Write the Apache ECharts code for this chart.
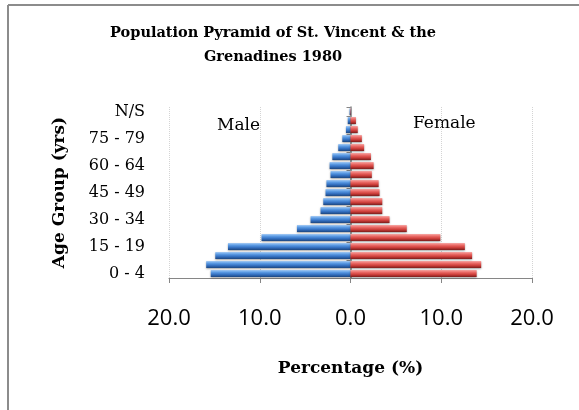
<!DOCTYPE html>
<html>
<head>
<meta charset="utf-8">
<script src="https://cdn.jsdelivr.net/npm/echarts@6/dist/echarts.min.js"></script>
<style>
html,body{margin:0;padding:0;background:#fff;}
#chart{width:579px;height:410px;}
</style>
</head>
<body>
<div id="chart"></div>
<script>
var categories = ['0 - 4','5 - 9','10 - 14','15 - 19','20 - 24','25 - 29','30 - 34','35 - 39','40 - 44','45 - 49','50 - 54','55 - 59','60 - 64','65 - 69','70 - 74','75 - 79','80 - 84','85+','N/S'];
var maleValues = [15.4,15.9,14.9,13.5,9.8,5.9,4.4,3.3,3.0,2.75,2.65,2.2,2.3,2.0,1.35,0.9,0.5,0.3,0.1];
var femaleValues = [13.9,14.4,13.4,12.6,9.9,6.2,4.3,3.5,3.5,3.2,3.1,2.35,2.55,2.25,1.5,1.25,0.8,0.6,0.05];
var xTicks = [-20,-10,0,10,20];

var chart = echarts.init(document.getElementById('chart'), null, {renderer:'canvas'});

function grad(c0,c1,c2,c3){
  return new echarts.graphic.LinearGradient(0,0,0,1,[
    {offset:0,color:c0},{offset:0.3,color:c1},{offset:0.65,color:c2},{offset:1,color:c3}]);
}

var option = {
  backgroundColor:'#ffffff',
  animation:false,
  title:{
    text:'Population Pyramid of St. Vincent & the\nGrenadines 1980',
    left:268, top:16, textAlign:'center',
    textStyle:{fontFamily:'DejaVu Serif',fontWeight:'bold',fontSize:14.5,lineHeight:24,color:'#000'}
  },
  grid:{left:169,right:47,top:107,bottom:132,containLabel:false},
  xAxis:{
    type:'value', min:xTicks[0], max:xTicks[xTicks.length-1], interval:10,
    name:'Percentage (%)', nameLocation:'middle', nameGap:82,
    nameTextStyle:{fontFamily:'DejaVu Serif',fontWeight:'bold',fontSize:17,color:'#000'},
    axisLine:{show:true,onZero:false,lineStyle:{color:'#868686',width:1}},
    axisTick:{show:true,length:5,lineStyle:{color:'#868686'}},
    axisLabel:{margin:30,fontFamily:'Open Sans',fontSize:22,color:'#000',
      formatter:function(v){return Math.abs(v).toFixed(1);}},
    splitLine:{show:true,lineStyle:{color:'#d4d4d4',type:'dotted',width:1}}
  },
  yAxis:[{
    type:'category', data:categories, position:'left',
    name:'Age Group (yrs)', nameLocation:'middle', nameGap:101, nameRotate:90,
    nameTextStyle:{fontFamily:'DejaVu Serif',fontWeight:'bold',fontSize:17,color:'#000'},
    axisLine:{show:false,onZero:false},
    axisTick:{show:false},
    axisLabel:{interval:2,margin:24,fontFamily:'DejaVu Serif',fontSize:16,color:'#000'},
    splitLine:{show:false}
  },{
    type:'category', data:categories, position:'left',
    axisLine:{show:true,onZero:true,lineStyle:{color:'#868686',width:1.5}},
    axisTick:{show:true,length:4,inside:false,lineStyle:{color:'#868686'}},
    axisLabel:{show:false},
    splitLine:{show:false}
  }],
  series:[{
    name:'Male', type:'bar', stack:'total', yAxisIndex:0,
    barWidth:7,
    data:maleValues.map(function(v){return -v;}),
    itemStyle:{color:grad('#a9cdf5','#5d9de6','#3470c0','#1c4680'),
      shadowColor:'rgba(0,0,0,0.35)',shadowBlur:2,shadowOffsetY:1}
  },{
    name:'Female', type:'bar', stack:'total', yAxisIndex:0,
    barWidth:7,
    data:femaleValues,
    itemStyle:{color:grad('#f7aaa7','#ec6c68','#cc3e3a','#7c1d1b'),
      shadowColor:'rgba(0,0,0,0.35)',shadowBlur:2,shadowOffsetY:1}
  }],
  graphic:[
    {type:'line',shape:{x1:8,y1:5,x2:579,y2:5},style:{stroke:'#8c8c8c',lineWidth:2},z:10},
    {type:'line',shape:{x1:8,y1:5,x2:8,y2:410},style:{stroke:'#8c8c8c',lineWidth:2},z:10},
    {type:'text',left:217,top:117,style:{text:'Male',fontFamily:'DejaVu Serif',fontSize:17,fill:'#000'}},
    {type:'text',left:413,top:115,style:{text:'Female',fontFamily:'DejaVu Serif',fontSize:17,fill:'#000'}}
  ]
};
chart.setOption(option);
</script>
</body>
</html>
